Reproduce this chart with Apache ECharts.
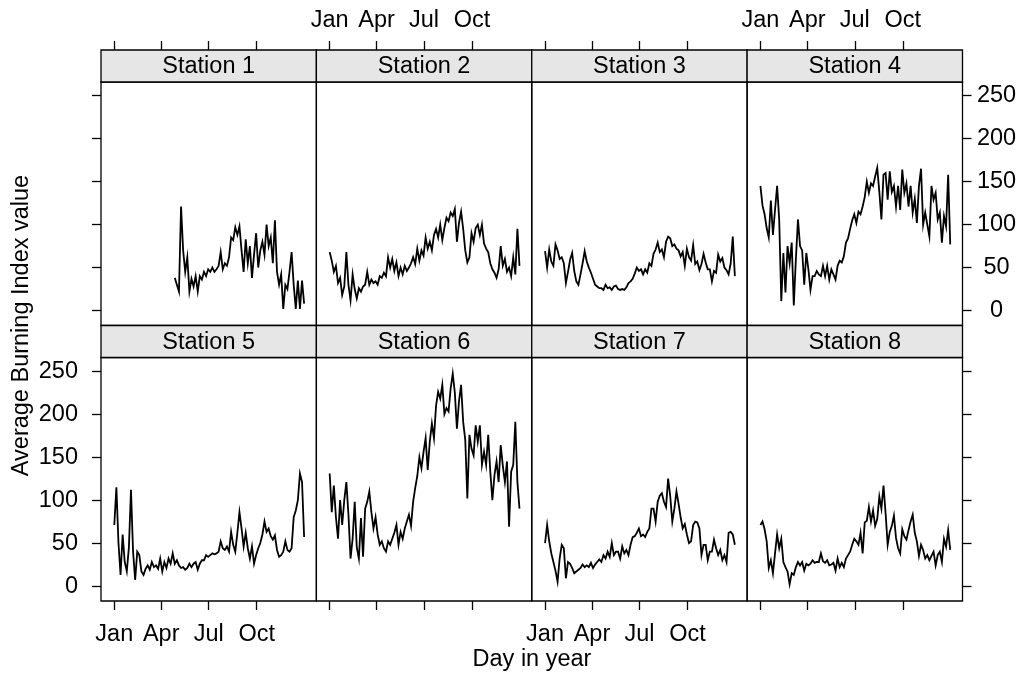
<!DOCTYPE html>
<html>
<head>
<meta charset="utf-8">
<title>Average Burning Index by station</title>
<script src="https://cdn.jsdelivr.net/npm/echarts@6/dist/echarts.min.js"></script>
<style>
  html, body { margin: 0; padding: 0; background: #ffffff; }
  #chart { width: 1021px; height: 676px; }
</style>
</head>
<body>
<div id="chart"></div>
<script>
// ---- data ---------------------------------------------------------------
// Average Burning Index, one reading every 4 days (day 0 = 1 January).
const stationNames = ['Station 1', 'Station 2', 'Station 3', 'Station 4',
                      'Station 5', 'Station 6', 'Station 7', 'Station 8'];
const sampleStepDays = 4;
const stationStartDay = [116, 0, 0, 0, 0, 0, 0, 0];

const station1 = [38,30,22,121,70,45,62,22,37,28,40,22,40,36,45,40,48,45,50,45,
  48,52,68,48,55,52,62,85,82,97,88,98,70,45,83,55,75,38,65,90,50,70,80,65,100,
  75,85,55,105,45,30,42,2,30,25,45,68,30,2,35,2,35,8];
const station2 = [68,58,45,52,32,38,18,28,68,30,12,42,25,14,26,22,28,30,45,30,
  36,32,34,30,40,38,44,40,62,50,60,46,56,40,50,42,52,46,50,55,62,54,72,58,70,64,
  85,72,80,70,88,95,85,100,82,96,108,104,114,110,118,80,102,115,95,70,56,62,90,80,
  96,100,88,100,78,72,68,55,48,44,38,48,75,52,60,45,50,40,62,42,95,52];
const station3 = [69,50,71,57,52,77,70,60,62,55,32,45,59,67,46,34,30,42,55,69,
  57,50,44,37,30,28,26,26,24,30,26,27,24,28,29,25,24,25,24,27,32,34,37,43,50,46,
  48,42,48,44,55,52,66,71,79,68,71,62,80,86,84,75,77,72,70,63,68,52,72,62,58,76,
  54,57,47,54,66,56,48,48,34,46,44,65,57,61,50,47,42,55,86,40];
const station4 = [145,122,112,96,85,128,88,117,145,106,11,67,21,75,55,79,6,60,106,75,
  70,30,67,48,24,40,40,46,42,40,52,40,52,36,48,42,36,52,58,56,63,79,84,95,105,112,
  102,115,112,121,132,150,137,148,145,156,166,138,106,158,160,129,162,138,145,121,
  145,117,164,137,148,121,145,114,130,102,145,165,100,114,100,86,145,129,137,106,
  114,79,110,98,158,77];
const station5 = [71,115,50,13,60,28,17,45,112,40,7,40,36,17,13,20,24,19,28,22,
  24,20,32,17,28,21,32,26,38,26,30,24,21,22,19,21,26,22,26,28,19,26,30,30,36,34,
  36,38,37,38,40,52,44,42,46,40,63,48,40,62,86,67,46,62,44,32,46,26,36,44,50,60,
  75,63,67,58,54,59,42,34,36,40,52,42,40,44,80,88,100,131,121,57];
const station6 = [131,86,117,80,55,100,71,100,121,83,32,55,98,45,32,79,34,90,98,110,
  86,67,80,60,48,52,44,40,52,48,55,62,71,48,63,55,67,75,83,70,98,114,128,150,137,
  156,172,135,168,189,172,210,226,218,234,200,207,203,230,247,225,183,215,234,191,
  170,102,176,160,152,187,168,187,141,156,141,176,133,100,129,145,121,164,140,121,
  145,69,133,141,191,121,90];
const station7 = [50,71,52,38,28,18,5,32,48,44,9,28,26,21,15,17,19,21,25,22,
  24,22,27,21,25,28,31,28,36,32,40,34,50,36,40,40,32,46,38,42,36,48,57,58,62,67,
  58,60,57,63,67,90,90,75,98,105,108,98,92,125,105,75,90,110,96,80,67,72,60,50,
  52,71,75,74,67,36,48,48,30,40,40,54,44,36,42,30,36,28,62,63,60,48];
const station8 = [71,75,66,52,21,30,15,38,60,44,55,28,22,17,2,15,13,22,28,24,
  28,18,26,24,26,30,27,28,28,38,29,27,30,24,25,27,18,32,22,27,22,32,36,40,48,55,
  52,48,62,38,74,76,92,75,88,70,78,104,90,117,85,48,63,70,82,56,44,38,66,58,54,65,
  75,83,62,52,35,48,42,32,36,30,35,40,24,36,40,28,55,46,65,42];

const monthTickDays = [0, 90, 181, 273];
const monthTickLabels = ['Jan', 'Apr', 'Jul', 'Oct'];
const valueTicks = [0, 50, 100, 150, 200, 250];

const stationValues = [station1, station2, station3, station4,
                       station5, station6, station7, station8];

// ---- layout -------------------------------------------------------------
const FONT = '"Liberation Sans", Arial, Helvetica, sans-serif';
const FONT_SIZE = 23.5;
const panelLeft = 101, panelRight = 962.5;
const colW = (panelRight - panelLeft) / 4;
const stripH = 32;
const rowTop = [82, 357.5];
const panelH = 243.5;
const xRange = [-25.5, 387.5];
const yRange = [-17.4, 265.9];
const frame = { color: '#000000', width: 1.3 };

const grids = [], xAxes = [], yAxes = [], series = [], graphics = [];

stationValues.forEach((vals, k) => {
  const row = k < 4 ? 0 : 1;
  const col = k % 4;
  const left = panelLeft + col * colW;

  grids.push({
    left: left, top: rowTop[row], width: colW, height: panelH,
    show: true, borderColor: frame.color, borderWidth: frame.width,
    backgroundColor: 'transparent', containLabel: false
  });

  const showXLabels = row === 0 ? (col === 1 || col === 3) : (col === 0 || col === 2);
  xAxes.push({
    type: 'value', gridIndex: k, min: xRange[0], max: xRange[1],
    position: row === 0 ? 'top' : 'bottom',
    offset: row === 0 ? stripH : 0,
    axisLine: { show: false, onZero: false },
    splitLine: { show: false },
    axisTick: {
      show: true, inside: false, length: 9, customValues: monthTickDays,
      lineStyle: { color: '#000', width: 1.3 }
    },
    axisLabel: {
      show: showXLabels, customValues: monthTickDays,
      formatter: v => monthTickLabels[monthTickDays.indexOf(v)] || '',
      margin: row === 0 ? 17 : 22,
      color: '#000', fontFamily: FONT, fontSize: FONT_SIZE
    }
  });

  const hasYAxis = col === 0 || col === 3;
  const showYLabels = (col === 0 && row === 1) || (col === 3 && row === 0);
  yAxes.push({
    type: 'value', gridIndex: k, min: yRange[0], max: yRange[1],
    position: col === 3 ? 'right' : 'left',
    axisLine: { show: false, onZero: false },
    splitLine: { show: false },
    axisTick: {
      show: hasYAxis, inside: false, length: 9, customValues: valueTicks,
      lineStyle: { color: '#000', width: 1.3 }
    },
    axisLabel: {
      show: showYLabels, customValues: valueTicks,
      margin: col === 3 ? 34 : 23,
      align: col === 3 ? 'center' : 'right',
      color: '#000', fontFamily: FONT, fontSize: FONT_SIZE
    }
  });

  const start = stationStartDay[k];
  series.push({
    type: 'line', xAxisIndex: k, yAxisIndex: k,
    data: vals.map((v, i) => [start + i * sampleStepDays, v]),
    showSymbol: false, symbol: 'none', silent: true,
    lineStyle: { color: '#000000', width: 1.8, join: 'miter' },
    connectNulls: false
  });

  // strip with the station name above each panel
  const stripTop = rowTop[row] - stripH;
  graphics.push({
    type: 'rect', silent: true,
    shape: { x: left, y: stripTop, width: colW, height: stripH },
    style: { fill: '#e6e6e6', stroke: frame.color, lineWidth: frame.width }
  });
  graphics.push({
    type: 'text', silent: true,
    x: left + colW / 2, y: stripTop + stripH / 2 + 1,
    style: {
      text: stationNames[k], fill: '#000', font: FONT_SIZE + 'px ' + FONT,
      textAlign: 'center', textVerticalAlign: 'middle'
    }
  });
});

// axis titles
graphics.push({
  type: 'text', silent: true, x: 22, y: 325.5, rotation: Math.PI / 2,
  style: {
    text: 'Average Burning Index value', fill: '#000', font: FONT_SIZE + 'px ' + FONT,
    textAlign: 'center', textVerticalAlign: 'middle'
  }
});
graphics.push({
  type: 'text', silent: true, x: 532, y: 660,
  style: {
    text: 'Day in year', fill: '#000', font: FONT_SIZE + 'px ' + FONT,
    textAlign: 'center', textVerticalAlign: 'middle'
  }
});

const chart = echarts.init(document.getElementById('chart'), null, { renderer: 'canvas' });
chart.setOption({
  animation: false,
  backgroundColor: '#ffffff',
  grid: grids,
  xAxis: xAxes,
  yAxis: yAxes,
  series: series,
  graphic: graphics
});
</script>
</body>
</html>
